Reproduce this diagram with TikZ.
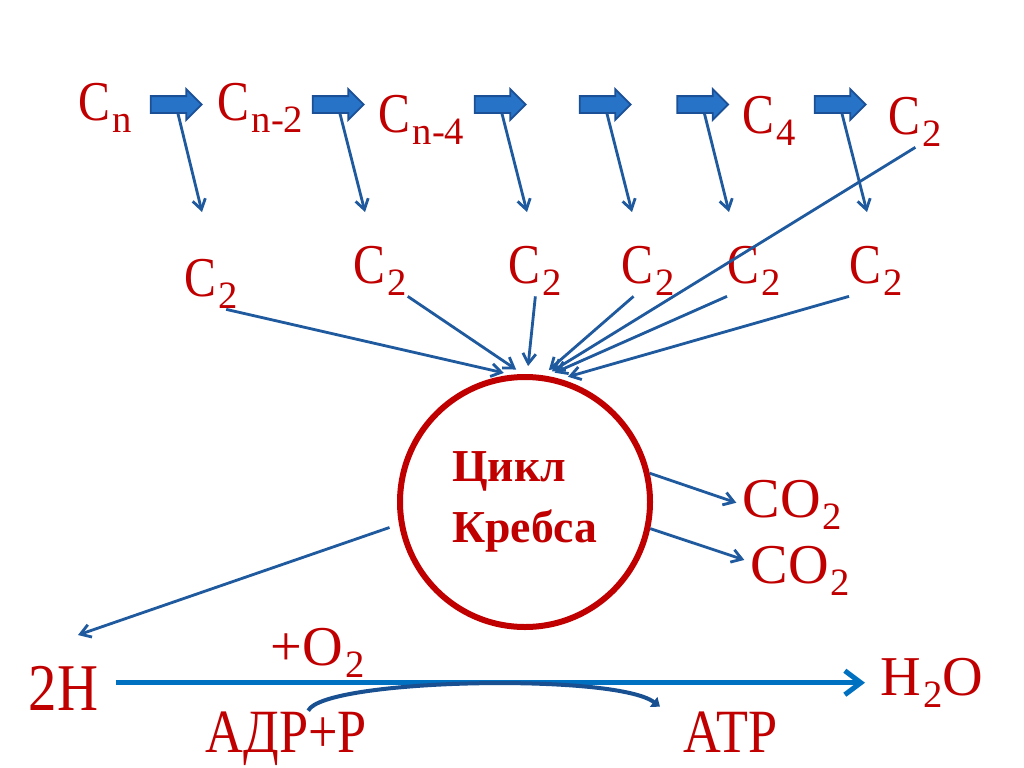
\documentclass[tikz,border=0pt]{standalone}
\usepackage{fontspec}
\setmainfont{Liberation Serif}[FakeStretch=0.85]
\newfontfamily\cyclefont{Liberation Serif}
\usepackage{tikz}
\usetikzlibrary{arrows.meta, positioning, shapes.arrows}
\definecolor{krebsred}{RGB}{192,0,0}
\definecolor{flowblue}{RGB}{31,89,158}
\definecolor{mainblue}{RGB}{0,112,192}
\definecolor{atpblue}{RGB}{25,80,145}
\definecolor{barfill}{RGB}{38,115,200}
\definecolor{baredge}{RGB}{28,80,150}
\newcommand{\lowidx}[1]{\kern0.6pt\raisebox{-3.6pt}{\cyclefont\fontsize{11}{13}\selectfont #1}}

\begin{document}
\begin{tikzpicture}[
  x=0.1mm, y=-0.1mm,
  lbl/.style={text=krebsred, font=\fontsize{16}{18}\selectfont, inner sep=0pt, anchor=base west},
  widelbl/.style={lbl, font=\cyclefont\fontsize{16}{18}\selectfont},
  biglbl/.style={lbl, font=\fontsize{19}{22}\selectfont},
  atplbl/.style={lbl, font=\fontsize{17.5}{20}\selectfont},
  bar/.style={single arrow, draw=baredge, fill=barfill, line width=0.5pt, inner xsep=0pt, inner ysep=0.75mm, single arrow head extend=0.7mm, minimum height=5.1mm},
  krebs/.style={circle, draw=krebsred, line width=0.6mm, minimum size=25mm, inner sep=0pt, text=krebsred, align=left, font=\cyclefont\bfseries\fontsize{13}{17.4}\selectfont},
  drop/.style={-{Straight Barb[length=1mm,width=1.3mm]}, flowblue, line width=0.8pt},
  feed/.style={drop, shorten >=0.8mm},
  mainflow/.style={-{Straight Barb[length=1.6mm,width=2.4mm]}, mainblue, line width=0.5mm},
  phos/.style={-{Triangle[length=0.8mm,width=1.2mm]}, atpblue, line width=0.4mm}
]
\path[use as bounding box, fill=white] (0,0) rectangle (1024,767);

\node[lbl] (cn) at (78,120) {C\lowidx{n}};
\node[lbl] (cnb) at (217,120) {C\lowidx{n-2}};
\node[lbl] (cnd) at (378,132) {C\lowidx{n-4}};
\node[lbl] (cfour) at (742,133) {C\lowidx{4}};
\node[lbl] (ctop) at (888,134) {C\lowidx{2}};
\foreach \i/\x in {1/172,2/334,3/496,4/601,5/698.5,6/836}
  \node[bar] (bar\i) at (\x,104.5) {};
\foreach \i/\x in {1/202,2/365,3/527,4/632,5/729,6/867}
  \coordinate (drop\i) at (\x,212);

\node[lbl] (c2a) at (184,296) {C\lowidx{2}};
\node[lbl] (c2b) at (353,283) {C\lowidx{2}};
\node[lbl] (c2c) at (508,283) {C\lowidx{2}};
\node[lbl] (c2d) at (621,283) {C\lowidx{2}};
\node[lbl] (c2e) at (727,283) {C\lowidx{2}};
\node[lbl] (c2f) at (849,283) {C\lowidx{2}};

\node[krebs] (krebs) at (525,502) {Цикл\\Кребса};
\node[widelbl] (co2a) at (742,517) {CO\lowidx{2}};
\node[widelbl] (co2b) at (750,583) {CO\lowidx{2}};
\coordinate (hfree) at (78,635);

\node[biglbl] (h2) at (28,710) {2H};
\node[widelbl] (plusox) at (270,665) {+O\lowidx{2}};
\node[widelbl] (h2o) at (880,695) {H\lowidx{2}O};
\node[atplbl] (adp) at (205,752) {АДР+Р};
\node[atplbl] (atp) at (683,752) {АТР};

\foreach \i in {1,...,6}
  \draw[drop] ([xshift=0.6mm]bar\i.south) -- (drop\i);

\draw[feed] (c2a.-60) -- (krebs.96);
\draw[feed] (c2b.south east) -- (krebs.91);
\draw[feed] (c2c.south) -- (krebs.89);
\draw[feed] (c2d.-120) -- (krebs.82);
\draw[feed] (c2e.south west) -- (krebs.80);
\draw[feed] (c2f.south west) -- (krebs.74.6);
\draw[feed] (ctop.south) -- (krebs.81);

\draw[drop, shorten >=0.6mm] (krebs.13) -- (co2a.west);
\draw[drop, shorten >=0.6mm] (krebs.-12) -- (co2b.170);
\draw[drop, shorten <=1mm] (krebs.190) -- (hfree);

\draw[mainflow, shorten <=1.7mm, shorten >=1.5mm] (h2.east |- h2o.west) -- (h2o.west);
\draw[phos] ([xshift=2.2mm]adp.north) .. controls +(15,-32) and +(-45,-34) .. ([xshift=-2.3mm,yshift=0.4mm]atp.north west);
\end{tikzpicture}
\end{document}
